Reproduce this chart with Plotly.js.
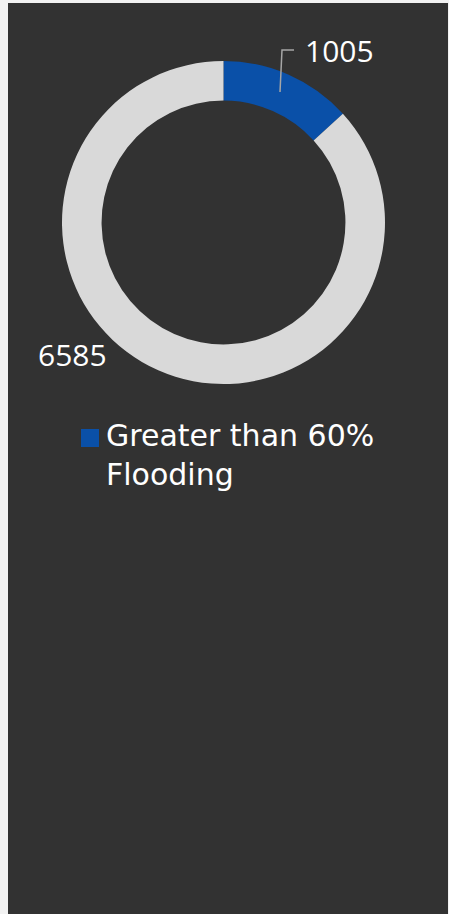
<!DOCTYPE html>
<html>
<head>
<meta charset="utf-8">
<script src="https://cdn.plot.ly/plotly-3.0.1.min.js"></script>
<style>
  html, body { margin: 0; padding: 0; background: #f2f2f2; width: 449px; height: 914px; overflow: hidden; }
  #chart { position: absolute; left: 8px; top: 3px; width: 440px; height: 911px; }
</style>
</head>
<body>
<div id="chart"></div>
<script>
// ---- data ----
const labels = ['Greater than 60% Flooding', 'Other'];
const values = [1005, 6585];
const colors = ['#0a50a8', '#d9d9d9'];
const legendLabels = ['Greater than 60%<br>Flooding'];

// ---- layout helpers (div pixels -> paper) ----
const W = 440, H = 911;
const px = x => x / W;
const py = y => 1 - y / H;
const NUMFONT = 'Open Sans, sans-serif';
const LEGFONT = 'DejaVu Sans, sans-serif';

const trace = {
  type: 'pie',
  labels: labels,
  values: values,
  hole: 0.755,
  sort: false,
  direction: 'clockwise',
  rotation: 0,
  marker: { colors: colors, line: { width: 0 } },
  textinfo: 'none',
  hoverinfo: 'none',
  showlegend: false,
  domain: { x: [px(54), px(377)], y: [py(381), py(58)] }
};

const layout = {
  width: W, height: H,
  margin: { l: 0, r: 0, t: 0, b: 0 },
  paper_bgcolor: '#323232',
  plot_bgcolor: '#323232',
  showlegend: false,
  annotations: [
    { text: String(values[0]), xref: 'paper', yref: 'paper', x: px(295), y: py(47),
      xanchor: 'left', yanchor: 'middle', showarrow: false,
      font: { family: NUMFONT, size: 30, color: '#ffffff' } },
    { text: String(values[1]), xref: 'paper', yref: 'paper', x: px(64.5), y: py(351),
      xanchor: 'center', yanchor: 'middle', showarrow: false,
      font: { family: NUMFONT, size: 30, color: '#ffffff' } },
    { text: legendLabels[0], xref: 'paper', yref: 'paper', x: px(96), y: py(452),
      xanchor: 'left', yanchor: 'middle', align: 'left', showarrow: false,
      font: { family: LEGFONT, size: 30, color: '#ffffff' } }
  ],
  shapes: [
    { type: 'path', xref: 'paper', yref: 'paper',
      path: 'M' + px(272) + ',' + py(89) + ' L' + px(274) + ',' + py(47) + ' L' + px(286) + ',' + py(47),
      line: { color: '#a6a6a6', width: 1.5 } },
    { type: 'rect', xref: 'paper', yref: 'paper',
      x0: px(73), x1: px(91), y0: py(444), y1: py(426),
      fillcolor: colors[0], line: { width: 0 } }
  ]
};

Plotly.newPlot('chart', [trace], layout, { staticPlot: true, displayModeBar: false });
</script>
</body>
</html>
